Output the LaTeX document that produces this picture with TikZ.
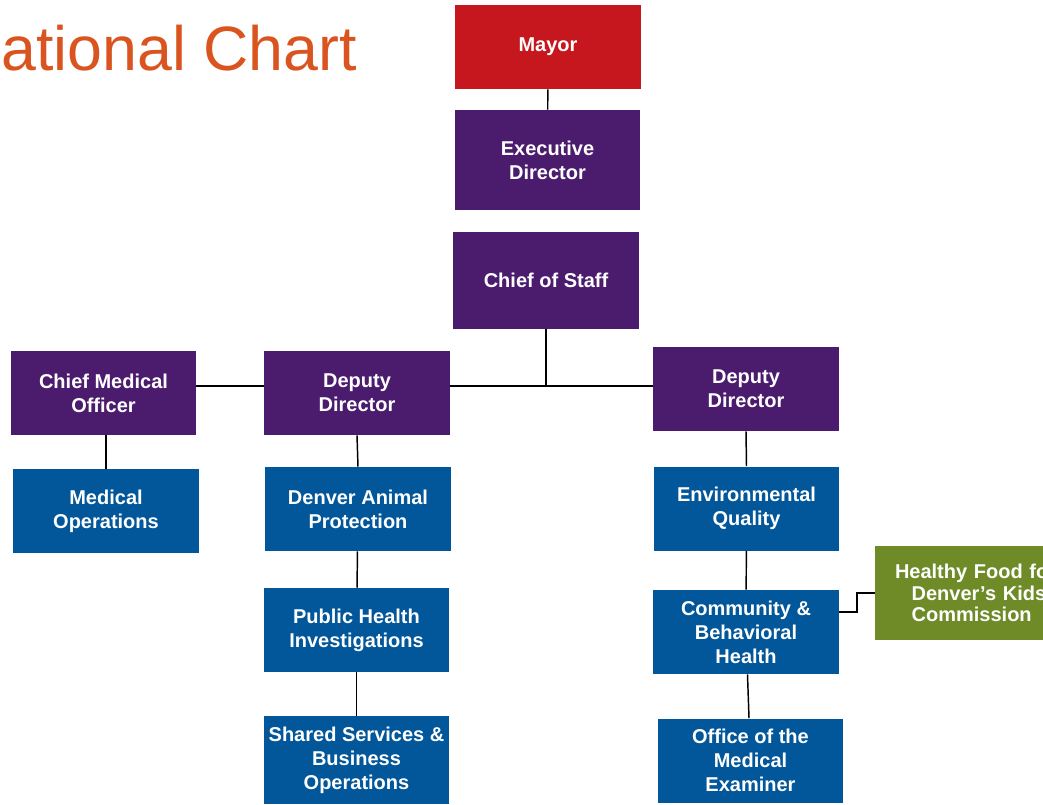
\documentclass[tikz,border=0pt]{standalone}
\usepackage{fontspec}
\setmainfont{Liberation Sans}
\usepackage{tikz}
\definecolor{mayorred}{HTML}{C6171E}
\definecolor{mgrpurple}{HTML}{4B1C6E}
\definecolor{unitblue}{HTML}{02569A}
\definecolor{boardgreen}{HTML}{6E8B27}
\definecolor{titleorange}{HTML}{DA541F}

\begin{document}
\begin{tikzpicture}[x=0.75pt, y=-0.75pt,
  box/.style={rectangle, text=white, font=\bfseries\fontsize{15}{18}\selectfont, align=center, inner sep=0pt, minimum width=139pt, minimum height=63pt},
  mgr/.style={box, fill=mgrpurple},
  unit/.style={box, fill=unitblue},
  link/.style={black, line width=1.1pt}]
\useasboundingbox (0,0) rectangle (1043,804);

\node[anchor=base east, text=titleorange, font=\fontsize{47}{50}\selectfont, inner sep=0pt] (title) at (357,70) {ational Chart};

\node[box, fill=mayorred] (mayor) at (548,47) {Mayor};
\node[mgr, minimum height=75pt] (exec) at (547.5,160) {Executive\\Director};
\node[mgr, minimum height=73pt] (cos) at (546,280.5) {Chief of Staff};
\node[mgr] (cmo) at (103.5,393) {Chief Medical\\Officer};
\node[mgr] (ddl) at (357,393) {Deputy\\Director};
\node[mgr] (ddr) at (746,389) {Deputy\\Director};

\node[unit] (medops) at (106,511) {Medical\\Operations};
\node[unit] (dap) at (358,509) {Denver Animal\\Protection};
\node[unit] (phi) at (356.5,630) {Public Health\\Investigations};
\node[unit, minimum height=66pt] (ss) at (356.5,760) {Shared Services \&\\Business\\Operations};
\node[unit] (eq) at (746.5,508.5) {Environmental\\Quality};
\node[unit] (cbh) at (746,632) {Community \&\\Behavioral\\Health};
\node[unit] (ome) at (750.5,760.5) {Office of the\\Medical\\Examiner};
\node[box, fill=boardgreen, align=left, minimum width=180pt, minimum height=70.5pt, text width=150pt, font=\bfseries\fontsize{15}{16}\selectfont] (hfd) at (995,593) {Healthy Food for\\\hspace*{12.5pt}Denver’s Kids\\\hspace*{12.5pt}Commission};

\coordinate (hub) at (546,386);
\coordinate (hfdjog) at (857,612);

\draw[link] (mayor)--(exec);
\draw[link] (cos)--(hub);
\draw[link] (cmo.east |- hub)--(ddl.west |- hub);
\draw[link] (ddl.east |- hub)--(ddr.west |- hub);
\draw[link] (medops.north |- cmo.south)--(medops.north);
\draw[link] (ddl.south)--(dap.north);
\draw[link] (dap)--(phi);
\draw[link] (phi)--(ss);
\draw[link] (ddr.south)--(eq.north);
\draw[link] (eq)--(cbh);
\draw[link] (cbh)--(ome);
\draw[link] (cbh.east |- hfdjog)--(hfdjog) |- (hfd.west);
\end{tikzpicture}
\end{document}
